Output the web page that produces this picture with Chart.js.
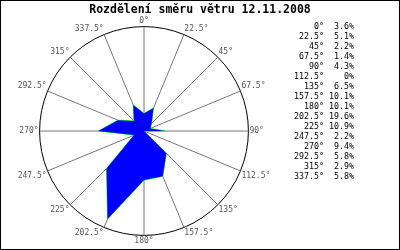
<!DOCTYPE html>
<html>
<head>
<meta charset="utf-8">
<script src="https://cdn.jsdelivr.net/npm/chart.js@4"></script>
<style>
html,body{margin:0;padding:0;background:#fff;}
#wrap{position:relative;width:400px;height:250px;overflow:hidden;}
canvas{display:block;position:absolute;left:0;top:0;}
#frame{position:absolute;left:0;top:0;width:400px;height:250px;box-sizing:border-box;border:1px solid #000;pointer-events:none;}
#title{position:absolute;left:0;top:2px;width:400px;text-align:center;font:bold 11.5px/14px 'DejaVu Sans Mono',monospace;color:#000;white-space:pre;}
#side{position:absolute;right:46px;top:21px;margin:0;text-align:right;font:8.3px/10px 'DejaVu Sans Mono',monospace;color:#000;white-space:pre;}
</style>
</head>
<body>
<div id="wrap">
  <canvas id="c" width="400" height="250"></canvas>
  <div id="title"></div>
  <pre id="side"></pre>
  <div id="frame"></div>
</div>
<script>
const directions = ["0", "22.5", "45", "67.5", "90", "112.5", "135", "157.5", "180", "202.5", "225", "247.5", "270", "292.5", "315", "337.5"];
const shares = [3.6, 5.1, 2.2, 1.4, 4.3, 0, 6.5, 10.1, 10.1, 19.6, 10.9, 2.2, 9.4, 5.8, 2.9, 5.8];
const titleText = "Rozdělení směru větru 12.11.2008";
const scaleMax = 21.5;

const labels = directions.map(d => d + "°");

function pad(s, n) { while (s.length < n) s = " " + s; return s; }
const legendLines = directions.map((d, i) => pad(d + "°", 6) + " " + pad(shares[i] + "%", 5));

document.getElementById("title").textContent = titleText;
document.getElementById("side").textContent = legendLines.join("\n");

new Chart(document.getElementById("c"), {
  type: "radar",
  data: {
    labels: labels,
    datasets: [
      {
        data: shares,
        backgroundColor: "#0000ff",
        borderWidth: 0,
        borderColor: "#0000ff",
        fill: true,
        pointRadius: 0
      },
      {
        data: shares,
        backgroundColor: "rgba(0,0,0,0)",
        borderColor: "#00ff00",
        borderWidth: 1,
        fill: false,
        pointRadius: 0
      }
    ]
  },
  options: {
    responsive: false,
    animation: false,
    layout: { padding: { left: 1, right: 113, top: 17, bottom: 3 } },
    plugins: {
      legend: { display: false },
      tooltip: { enabled: false },
      title: { display: false }
    },
    scales: {
      r: {
        min: 0,
        max: scaleMax,
        ticks: { display: false, stepSize: scaleMax },
        grid: { circular: true, color: "#000", lineWidth: 1 },
        angleLines: { color: "#777777", lineWidth: 1 },
        pointLabels: {
          color: "#555555",
          padding: 1,
          font: { family: "DejaVu Sans Mono", size: 8 }
        }
      }
    }
  }
});
</script>
</body>
</html>
